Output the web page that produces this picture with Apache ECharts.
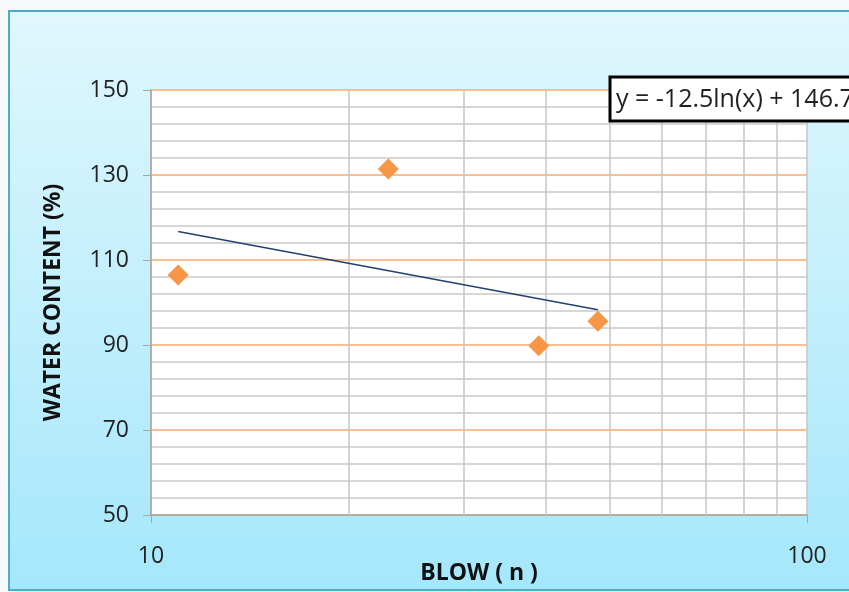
<!DOCTYPE html>
<html>
<head>
<meta charset="utf-8">
<script src="https://cdn.jsdelivr.net/npm/echarts@6/dist/echarts.min.js"></script>
<style>
  html, body { margin: 0; padding: 0; background: #f6f8f9; overflow: hidden; }
  #chart { width: 849px; height: 592px; }
</style>
</head>
<body>
<div id="chart"></div>
<script>
// blows vs water content
const blows = [11, 23, 39, 48];
const waterContent = [106.5, 131.4, 89.8, 95.6];
// trendline ends, y = -12.5ln(x) + 146.7
const trendX = [11, 48];
const trendY = [116.7, 98.3];
const minorX = [20, 30, 40, 50, 60, 70, 80, 90];
const equationText = "y = -12.5ln(x) + 146.7";

const font = "'Open Sans', Lato, sans-serif";

const chart = echarts.init(document.getElementById("chart"));

chart.setOption({
  animation: false,
  backgroundColor: "#f6f8f9",
  graphic: [
    {
      type: "rect",
      z: -10,
      shape: { x: 9, y: 11, width: 860, height: 579 },
      style: {
        fill: new echarts.graphic.LinearGradient(0, 0, 0, 1, [
          { offset: 0, color: "#e0f7fd" },
          { offset: 1, color: "#a5e7fb" },
        ]),
        stroke: "#4aaec6",
        lineWidth: 2,
      },
    },
    {
      type: "rect",
      z: 100,
      shape: { x: 610, y: 77, width: 260, height: 44 },
      style: { fill: "#fff", stroke: "#000", lineWidth: 3 },
    },
    {
      type: "text",
      z: 101,
      x: 616,
      y: 100,
      style: {
        text: equationText,
        font: "25px " + font,
        fill: "#222",
        verticalAlign: "middle",
      },
    },
  ],
  grid: {
    left: 151, right: 42, top: 90, bottom: 77,
    show: true, backgroundColor: "#fff", borderWidth: 0,
    containLabel: false, outerBoundsMode: "none",
  },
  xAxis: {
    type: "log",
    logBase: 10,
    min: 10,
    max: 100,
    name: "BLOW ( n )",
    nameLocation: "middle",
    nameGap: 47,
    nameMoveOverlap: false,
    nameTextStyle: { fontFamily: font, fontWeight: "bold", fontSize: 23, color: "#111" },
    axisLine: { show: true, lineStyle: { color: "#a6a6a6", width: 1.5 } },
    axisTick: { show: true, length: 8, lineStyle: { color: "#a6a6a6" } },
    axisLabel: { fontFamily: font, fontSize: 23, color: "#222", margin: 30 },
    splitLine: { show: true, lineStyle: { color: "#c6c6c6", width: 1.5 } },
    minorTick: { show: false },
  },
  yAxis: {
    type: "value",
    min: 50,
    max: 150,
    interval: 20,
    name: "WATER CONTENT (%)",
    nameLocation: "middle",
    nameGap: 86,
    nameMoveOverlap: false,
    nameTextStyle: { fontFamily: font, fontWeight: "bold", fontSize: 23, color: "#111" },
    axisLine: { show: true, lineStyle: { color: "#a6a6a6", width: 1.5 } },
    axisTick: { show: true, length: 8, lineStyle: { color: "#a6a6a6" } },
    axisLabel: { fontFamily: font, fontSize: 23, color: "#222", margin: 22 },
    splitLine: { show: true, lineStyle: { color: "#f8a96c", width: 1.5 } },
    minorTick: { show: false, splitNumber: 5 },
    minorSplitLine: { show: true, lineStyle: { color: "#cacaca", width: 1.5 } },
  },
  series: [
    {
      type: "line",
      data: trendX.map((x, i) => [x, trendY[i]]),
      symbol: "none",
      lineStyle: { color: "#24406e", width: 1.5 },
      z: 3,
      markLine: {
        silent: true,
        symbol: "none",
        label: { show: false },
        lineStyle: { color: "#c6c6c6", width: 1.5, type: "solid" },
        data: minorX.map((x) => ({ xAxis: x })),
        z: 1,
      },
    },
    {
      type: "scatter",
      data: blows.map((x, i) => [x, waterContent[i]]),
      symbol: "diamond",
      symbolSize: 21,
      itemStyle: { color: "#f79646", opacity: 1 },
      z: 4,
    },
  ],
});
</script>
</body>
</html>
